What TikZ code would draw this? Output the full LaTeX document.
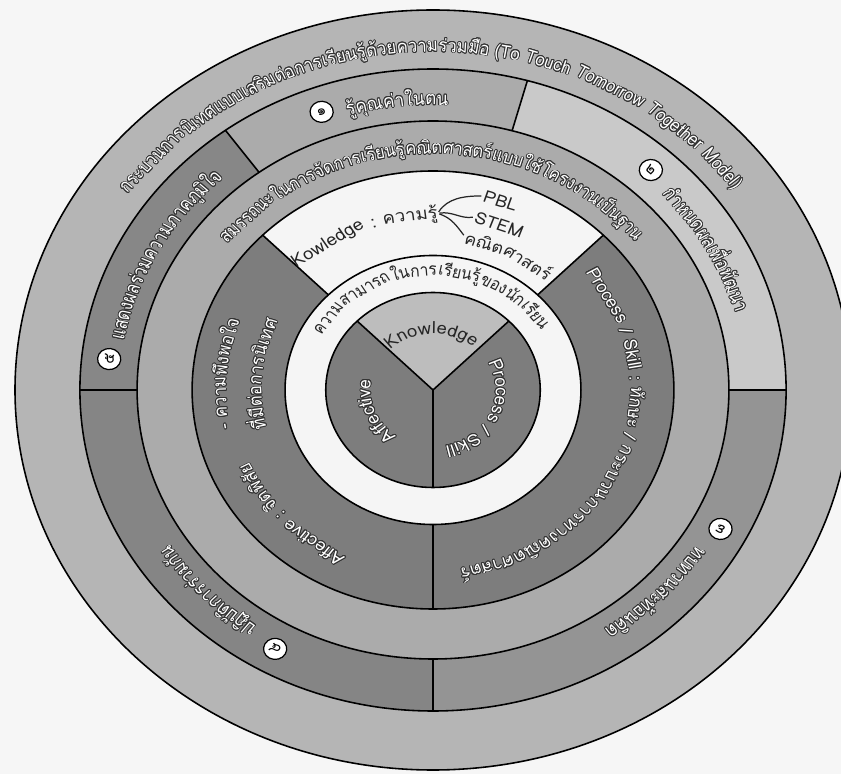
\documentclass[tikz,border=0pt]{standalone}
\usepackage{fontspec}
\usepackage{contour}
\usepackage{tikz}
\newfontfamily\thaifont[Script=Thai]{Loma}
\newfontfamily\thainarrow[Script=Thai, FakeStretch=0.85]{Loma}
\contourlength{0.45pt}
\contournumber{16}

\definecolor{paper}{gray}{0.965}
\definecolor{outband}{gray}{0.71}
\definecolor{stepone}{gray}{0.67}
\definecolor{steptwo}{gray}{0.79}
\definecolor{stepthree}{gray}{0.58}
\definecolor{stepfour}{gray}{0.52}
\definecolor{stepfive}{gray}{0.53}
\definecolor{compband}{gray}{0.67}
\definecolor{darkpart}{gray}{0.49}
\definecolor{lightcore}{gray}{0.74}
\definecolor{whitepart}{gray}{0.96}

\tikzset{
  edge/.style={line width=0.9pt, black},
  ringlbl/.style={anchor=base, inner sep=0pt, outer sep=0pt, transform shape},
  numdot/.style={circle, draw=black, fill=white, line width=0.7pt, inner sep=0pt,
    minimum size=12pt, transform shape, font=\thaifont\fontsize{8}{8}\selectfont},
  brace/.style={line width=0.7pt, black!85, shorten >=1.5pt, shorten <=1pt}
}

% white letters with a dark rim, and plain dark letters
\newcommand\litetxt[2]{{\thaifont\fontsize{#1}{#1}\selectfont\textcolor{white}{\contour{black!80}{#2}}}}
\newcommand\litenarrow[2]{{\thainarrow\fontsize{#1}{#1}\selectfont\textcolor{white}{\contour{black!80}{#2}}}}
\newcommand\darktxt[2]{{\thaifont\fontsize{#1}{#1}\selectfont\textcolor{black!85}{#2}}}
\newcommand\darknarrow[2]{{\thainarrow\fontsize{#1}{#1}\selectfont\textcolor{black!85}{#2}}}

% one ring of the wheel between two radii and two angles
\newcommand\band[5]{\fill[#1] (#4:#3) arc[start angle=#4, end angle=#5, radius=#3]
  -- (#5:#2) arc[start angle=#5, end angle=#4, radius=#2] -- cycle;}

% pieces of text set clockwise round the centre, base line on the given radius;
% each piece is first set in a box that is thrown away, to get its width
\newsavebox\measbox
\makeatletter
\newcommand\arctext[5]{%
  \gdef\arcsum{0}%
  \foreach \pc [count=\k] in {#5}{%
    \setbox\measbox=\hbox{\node[ringlbl] (#1-m\k) at (0,0) {#4{\pc}};}%
    \pgfpointdiff{\pgfpointanchor{#1-m\k}{base west}}{\pgfpointanchor{#1-m\k}{base east}}%
    \pgfmathsetmacro\pw{veclen(\the\pgf@x,\the\pgf@y)}%
    \expandafter\xdef\csname arcw@#1@\k\endcsname{\pw}%
    \pgfmathsetmacro\tmpsum{\arcsum+\pw}%
    \global\let\arcsum\tmpsum
  }%
  \pgfmathsetmacro\angnow{#3+deg(\arcsum/(#2*0.569055))/2}%
  \global\let\angnow\angnow
  \foreach \pc [count=\k] in {#5}{%
    \pgfmathsetmacro\pw{\csname arcw@#1@\k\endcsname}%
    \pgfmathsetmacro\angmid{\angnow-deg(\pw/(#2*0.569055))/2}%
    \node[ringlbl, rotate=\angmid-90] (#1-\k) at (\angmid:#2) {#4{\pc}};
    \pgfmathsetmacro\angnext{\angnow-deg(\pw/(#2*0.569055))}%
    \global\let\angnow\angnext
  }%
}
\makeatother

\begin{document}
\begin{tikzpicture}[x=0.02cm, y=0.02cm]
\useasboundingbox (0,0) rectangle (841,774);
\fill[paper] (0,0) rectangle (841,774);

\begin{scope}[shift={(433,384)}, xscale=1.1]
% rings, from the outside in
\fill[outband] (0,0) circle[radius=380];
\band{stepone}{269}{321}{74.5}{126}
\band{steptwo}{269}{321}{0}{74.5}
\band{stepthree}{269}{321}{-90}{0}
\band{stepfour}{269}{321}{180}{270}
\band{stepfive}{269}{321}{126}{180}
\fill[compband] (0,0) circle[radius=269];
\band{whitepart}{134.5}{219}{45}{135}
\band{darkpart}{134.5}{219}{135}{270}
\band{darkpart}{134.5}{219}{-90}{45}
\fill[whitepart] (0,0) circle[radius=134.5];
\fill[lightcore] (0,0) -- (45:97.5) arc[start angle=45, end angle=135, radius=97.5] -- cycle;
\fill[darkpart] (0,0) -- (135:97.5) arc[start angle=135, end angle=270, radius=97.5] -- cycle;
\fill[darkpart] (0,0) -- (-90:97.5) arc[start angle=-90, end angle=45, radius=97.5] -- cycle;

% outlines
\draw[edge] (0,0) circle[radius=380];
\draw[edge] (0,0) circle[radius=321];
\draw[edge] (0,0) circle[radius=269];
\draw[edge] (0,0) circle[radius=219];
\draw[edge] (0,0) circle[radius=134.5];
\draw[edge] (0,0) circle[radius=97.5];
\draw[edge] (0:269) -- (0:321);
\draw[edge] (74.5:269) -- (74.5:321);
\draw[edge] (126:269) -- (126:321);
\draw[edge] (180:269) -- (180:321);
\draw[edge] (270:269) -- (270:321);
\draw[edge] (45:134.5) -- (45:219);
\draw[edge] (135:134.5) -- (135:219);
\draw[edge] (270:134.5) -- (270:219);
\draw[edge] (0,0) -- (45:97.5);
\draw[edge] (0,0) -- (135:97.5);
\draw[edge] (0,0) -- (270:97.5);

% outer ring
\arctext{frame}{338}{90.5}{\litenarrow{10.2}}{กระบวนการ,นิเทศ,แบบ,เสริม,ต่อ,การ,เรียนรู้,ด้วย,ความ,ร่วม,มือ\ (To\ ,Touch\ ,Tomorrow\ ,Together\ ,Model)}

% five steps
\node[numdot, rotate=20] (n1) at (110:296) {๑};
\node[numdot, rotate=-42] (n2) at (48:296) {๒};
\node[numdot, rotate=-118] (n3) at (-28:296) {๓};
\node[numdot, rotate=151] (n4) at (241:296) {๔};
\node[numdot, rotate=84] (n5) at (174:296) {๕};
\arctext{stepa}{285}{96.5}{\litenarrow{10.5}}{รู้,คุณ,ค่า,ใน,ตน}
\arctext{stepb}{285}{29.5}{\litenarrow{10.5}}{กำหนด,ผล,เพื่อ,พัฒนา}
\arctext{stepc}{285}{-45}{\litenarrow{10.5}}{ทบทวน,สะท้อน,คิด}
\arctext{stepd}{285}{224.5}{\litenarrow{10.5}}{ปฏิบัติ,การ,ร่วม,กัน}
\arctext{stepe}{285}{151}{\litenarrow{10.5}}{แสดง,ผล,ร่วม,ความ,ภาค,ภูมิ,ใจ}

% competence ring
\arctext{comp}{236}{90.5}{\litenarrow{10}}{สมรรถนะ,ใน,การ,จัด,การ,เรียนรู้,คณิต,ศาสตร์,แบบ,ใช้,โครง,งาน,เป็น,ฐาน}

% knowledge, skill, affect
\arctext{know}{170}{112}{\darktxt{9.6}}{Kowledge\ ,:\ ,ความรู้}
\arctext{pbl}{193}{72}{\darktxt{9.5}}{PBL}
\arctext{stem}{170}{70}{\darktxt{9.5}}{STEM}
\arctext{math}{148}{63}{\darktxt{9.2}}{คณิต,ศาสตร์}
\draw[brace] (know-3.east) to[out=60, in=180] (pbl-1.west);
\draw[brace] (know-3.east) to[out=10, in=190] (stem-1.west);
\draw[brace] (know-3.east) to[out=-20, in=125] (math-1.west);
\arctext{satis}{188}{175}{\litetxt{9.5}}{-\ ,ความ,พึง,พอใจ}
\arctext{supv}{156}{174}{\litetxt{9.5}}{ที่,มี,ต่อ,การ,นิเทศ}
\arctext{aff}{182}{224}{\litetxt{9.5}}{Affective\ ,:\ ,จิต,พิสัย}
\arctext{proc}{179}{-21}{\litetxt{9.5}}{Process\ ,/\ ,Skill\ ,:\ ,ทักษะ\ ,/\ ,กระบวน,การ,ทาง,คณิต,ศาสตร์}

% learners' ability
\arctext{abil}{114}{91.5}{\darknarrow{9.6}}{ความ,สามารถ,ใน,การ,เรียนรู้,ของ,นัก,เรียน}

% core
\arctext{kcore}{56}{91.5}{\darktxt{9.5}}{K,n,o,w,l,e,d,g,e}
\arctext{acore}{57}{202}{\litetxt{9.5}}{A,f,f,e,c,t,i,v,e}
\arctext{pcore}{57}{-25}{\litetxt{9.5}}{P,r,o,c,e,s,s\ ,/\ ,S,k,i,l,l}
\end{scope}
\end{tikzpicture}
\end{document}
